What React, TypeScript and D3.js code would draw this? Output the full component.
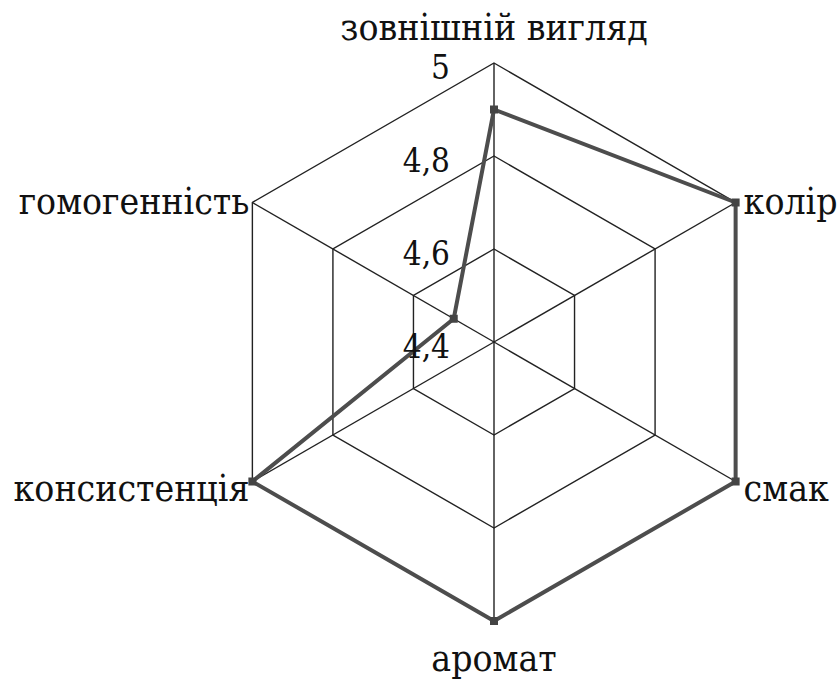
import React from 'react';
import * as d3 from 'd3';

const WIDTH = 837;
const HEIGHT = 680;
const CX = 494;
const CY = 342;
const RADIUS = 279;

const categories = [
  'зовнішній вигляд',
  'колір',
  'смак',
  'аромат',
  'консистенція',
  'гомогенність',
];
const values = [4.9, 5, 5, 5, 5, 4.5];
const ticks = [4.4, 4.6, 4.8, 5];
const tickLabels = ['4,4', '4,6', '4,8', '5'];

const FONT = "'DejaVu Serif Condensed', 'DejaVu Serif', serif";

const App = () => {
  const r = d3.scaleLinear().domain([4.4, 5]).range([0, RADIUS]);
  const angle = (i: number) => -Math.PI / 2 + (i * 2 * Math.PI) / categories.length;
  const pt = (i: number, v: number): [number, number] => [
    CX + r(v) * Math.cos(angle(i)),
    CY + r(v) * Math.sin(angle(i)),
  ];

  const ring = (v: number) =>
    d3.line()(categories.map((_, i) => pt(i, v))) + 'Z';

  const dataPath = d3.line()(values.map((v, i) => pt(i, v))) + 'Z';

  // label placement around each outer vertex
  const labelPos = (i: number) => {
    const [x, y] = pt(i, 5);
    const c = Math.cos(angle(i));
    const s = Math.sin(angle(i));
    if (Math.abs(c) < 0.1) {
      return { x, y: s < 0 ? y - 23 : y + 50, anchor: 'middle' };
    }
    return {
      x: c > 0 ? x + 8 : x - 3,
      y: s < 0 ? y + 11 : y + 19,
      anchor: c > 0 ? 'start' : 'end',
    };
  };

  const textStyle = (size: number) => ({
    fontFamily: FONT,
    fontStretch: 'condensed',
    fontSize: size,
  });

  return (
    <svg
      width={WIDTH}
      height={HEIGHT}
      style={{ position: 'absolute', left: 0, top: 0, background: '#fff', fontFamily: FONT }}
    >
      {ticks.slice(1).map((t) => (
        <path key={t} d={ring(t)} fill="none" stroke="#222" strokeWidth={1.4} />
      ))}
      {categories.map((_, i) => {
        const [x, y] = pt(i, 5);
        return (
          <line key={i} x1={CX} y1={CY} x2={x} y2={y} stroke="#222" strokeWidth={1.4} />
        );
      })}
      <path d={dataPath} fill="none" stroke="#4d4d4d" strokeWidth={4} strokeLinejoin="round" />
      {values.map((v, i) => {
        const [x, y] = pt(i, v);
        return <rect key={i} x={x - 4} y={y - 4} width={8} height={8} fill="#444" />;
      })}
      {ticks.map((t, i) => (
        <text
          key={t}
          x={CX - 44}
          y={CY - r(t) + 16}
          textAnchor="end"
          style={textStyle(33)}
          fill="#111"
        >
          {tickLabels[i]}
        </text>
      ))}
      {categories.map((c, i) => {
        const p = labelPos(i);
        return (
          <text
            key={c}
            x={p.x}
            y={p.y}
            textAnchor={p.anchor as any}
            style={textStyle(37)}
            fill="#111"
          >
            {c}
          </text>
        );
      })}
    </svg>
  );
};

export default App;
